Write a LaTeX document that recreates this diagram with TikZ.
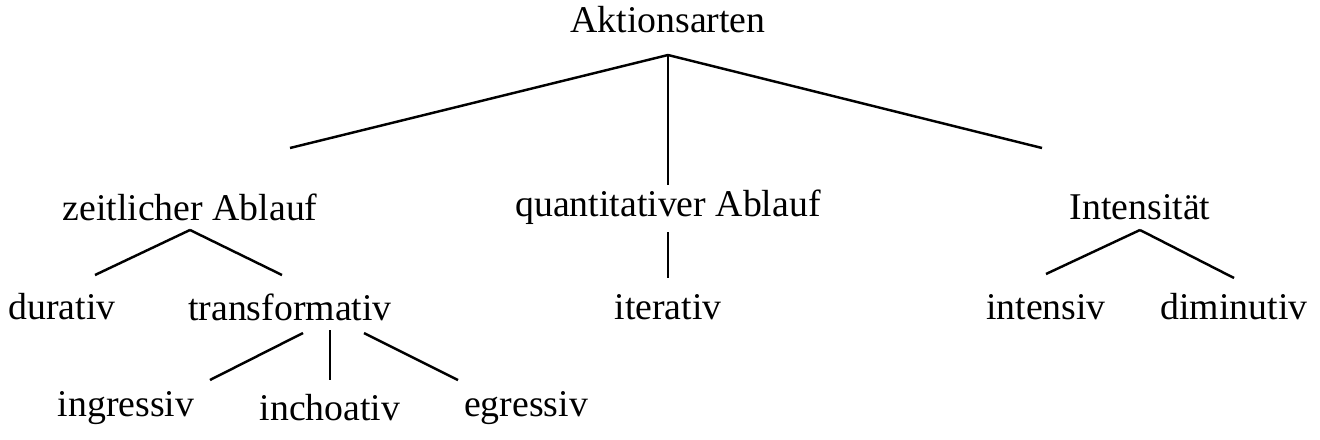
\documentclass[tikz,border=0pt]{standalone}
\usepackage{fontspec}
\setmainfont{Liberation Serif}
\begin{document}
\begin{tikzpicture}[x=0.02cm,y=-0.02cm,
    word/.style={inner sep=0pt,font=\fontsize{21.5}{24}\selectfont},
    branch/.style={line width=1.4pt}]
  \useasboundingbox (0,0) rectangle (1320,440);

  \node[word] (akt) at (668,20) {Aktionsarten};

  \node[word] (zeit)  at (190,207) {zeitlicher Ablauf};
  \node[word] (quant) at (668,207) {quantitativer Ablauf};
  \node[word] (inten) at (1140,207) {Intensität};

  \node[word] (dur)   at (62,307)   {durativ};
  \node[word] (trans) at (290,307)  {transformativ};
  \node[word] (iter)  at (668,307)  {iterativ};
  \node[word] (ints)  at (1046,307) {intensiv};
  \node[word] (dimi)  at (1234,307) {diminutiv};

  \node[word] (ingr) at (126,408) {ingressiv};
  \node[word] (inch) at (330,408) {inchoativ};
  \node[word] (egr)  at (526,408) {egressiv};

  % branch points
  \coordinate (akt-b)   at (668,55);
  \coordinate (zeit-t)  at (290,148);
  \coordinate (quant-t) at (668,185);
  \coordinate (inten-t) at (1042,148);
  \coordinate (zeit-b)  at (190,230);
  \coordinate (dur-t)   at (95,275);
  \coordinate (trans-t) at (282,275);
  \coordinate (quant-b) at (668,232);
  \coordinate (iter-t)  at (668,278);
  \coordinate (inten-b) at (1140,230);
  \coordinate (ints-t)  at (1046,274);
  \coordinate (dimi-t)  at (1234,278);

  \draw[branch] (akt-b) -- (zeit-t);
  \draw[branch] (akt-b) -- (quant-t);
  \draw[branch] (akt-b) -- (inten-t);
  \draw[branch] (zeit-b) -- (dur-t);
  \draw[branch] (zeit-b) -- (trans-t);
  \draw[branch] (quant-b) -- (iter-t);
  \draw[branch] (inten-b) -- (ints-t);
  \draw[branch] (inten-b) -- (dimi-t);

  \draw[branch] (303,333) -- (210,380) coordinate (ingr-t);
  \draw[branch] (330,330) -- (330,380) coordinate (inch-t);
  \draw[branch] (364,333) -- (458,380) coordinate (egr-t);
\end{tikzpicture}
\end{document}
